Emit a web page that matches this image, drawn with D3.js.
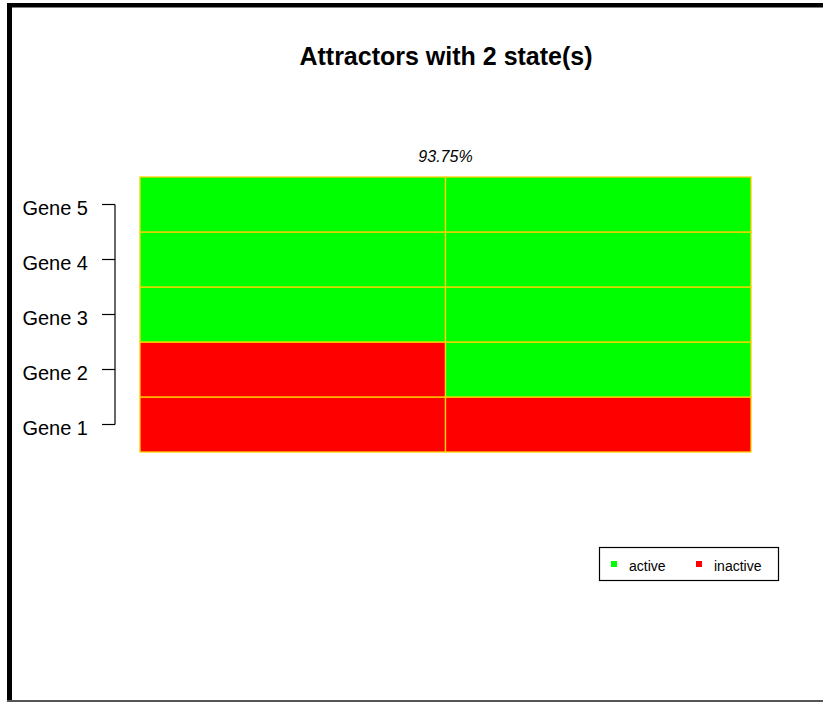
<!DOCTYPE html>
<html><head><meta charset="utf-8">
<script src="https://cdn.jsdelivr.net/npm/d3@7"></script>
<style>body{margin:0;background:#fff}svg{display:block}</style>
</head><body>
<script>
const genes = ["Gene 1", "Gene 2", "Gene 3", "Gene 4", "Gene 5"];
const states = ["State 1", "State 2"];
// 1 = active, 0 = inactive; one array per state, in gene order
const state1 = [0, 0, 1, 1, 1];
const state2 = [0, 1, 1, 1, 1];
const basinLabel = "93.75%";
const title = "Attractors with 2 state(s)";
const legendLabels = ["active", "inactive"];

const W = 823, H = 702;
const svg = d3.select("body").append("svg").attr("width", W).attr("height", H);
svg.append("rect").attr("width", W).attr("height", H).attr("fill", "#fff");

// frame
svg.append("rect").attr("x", 7).attr("y", 3).attr("width", W - 7).attr("height", 4.5).attr("fill", "#000");
svg.append("rect").attr("x", 7).attr("y", 3).attr("width", 5).attr("height", H - 3).attr("fill", "#000");
svg.append("rect").attr("x", 7).attr("y", 700).attr("width", W - 7).attr("height", 2).attr("fill", "#555");

const x = d3.scaleBand().domain(states).range([140, 751]);
const y = d3.scaleBand().domain(genes.slice().reverse()).range([177, 452]);
const color = d3.scaleOrdinal().domain([1, 0]).range(["#00ff00", "#ff0000"]);

const cells = [];
[state1, state2].forEach((vals, si) => vals.forEach((v, gi) => cells.push({ s: states[si], g: genes[gi], v })));

svg.append("g").selectAll("rect").data(cells).join("rect")
  .attr("x", d => x(d.s)).attr("y", d => y(d.g))
  .attr("width", x.bandwidth()).attr("height", y.bandwidth())
  .attr("fill", d => color(d.v))
  .attr("stroke", "#ffd200").attr("stroke-width", 1.3);

// y axis (R style)
const ax = svg.append("g").attr("transform", "translate(115,0)")
  .call(d3.axisLeft(y).tickSize(13).tickPadding(14));
ax.select(".domain").remove();
ax.append("line").attr("x1", 0).attr("x2", 0)
  .attr("y1", y(genes[genes.length - 1]) + y.bandwidth() / 2)
  .attr("y2", y(genes[0]) + y.bandwidth() / 2)
  .attr("stroke", "#000").attr("stroke-width", 1.2);
ax.selectAll(".tick line").attr("stroke", "#000").attr("stroke-width", 1.2);
ax.selectAll(".tick text").attr("fill", "#000")
  .style("font-family", "Liberation Sans, Arial, sans-serif").style("font-size", "20px").attr("dy", "0.5em");

// title
svg.append("text").attr("x", 446).attr("y", 65).attr("text-anchor", "middle")
  .style("font-family", "Liberation Sans, Arial, sans-serif").style("font-weight", "bold").style("font-size", "25px")
  .text(title);

// basin label
svg.append("text").attr("x", x.range()[0] + (x.range()[1] - x.range()[0]) / 2).attr("y", 162).attr("text-anchor", "middle")
  .style("font-family", "Liberation Sans, Arial, sans-serif").style("font-style", "italic").style("font-size", "16px")
  .text(basinLabel);

// legend
const lg = svg.append("g");
lg.append("rect").attr("x", 599.5).attr("y", 547.5).attr("width", 179).attr("height", 33)
  .attr("fill", "#fff").attr("stroke", "#000").attr("stroke-width", 1.2);
const legendX = [611, 696];
const legendColors = [color(1), color(0)];
legendLabels.forEach((lab, i) => {
  lg.append("rect").attr("x", legendX[i]).attr("y", 561).attr("width", 6).attr("height", 6).attr("fill", legendColors[i]);
  lg.append("text").attr("x", legendX[i] + 18).attr("y", 570.5)
    .style("font-family", "Liberation Sans, Arial, sans-serif").style("font-size", "14px").text(lab);
});
</script>
</body></html>
